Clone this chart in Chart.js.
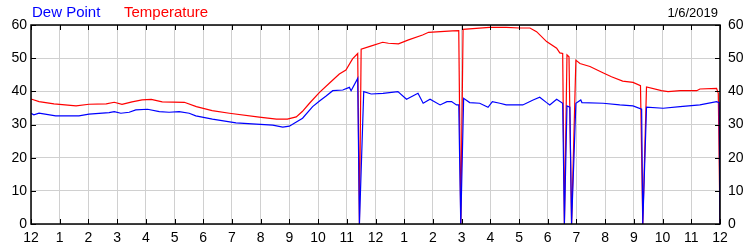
<!DOCTYPE html>
<html>
<head>
<meta charset="utf-8">
<script src="https://cdn.jsdelivr.net/npm/chart.js@4.4.1/dist/chart.umd.min.js"></script>
<style>
    body { margin: 0; background: #ffffff; }
    .wrap { position: relative; width: 750px; height: 250px; }
    .legend { position: absolute; top: 4px; font-family: 'Liberation Sans', Arial, sans-serif; font-size: 15px; line-height: 15px; white-space: nowrap; }
    .date { position: absolute; top: 6px; right: 32px; font-family: 'Liberation Sans', Arial, sans-serif; font-size: 13px; line-height: 13px; color: #000; }
</style>
</head>
<body>
<div class="wrap">
    <canvas id="weatherChart" width="750" height="250"></canvas>
    <span class="legend" style="left:32px;color:#0000ff">Dew Point</span>
    <span class="legend" style="left:124px;color:#ff0000">Temperature</span>
    <span class="date">1/6/2019</span>
</div>
<script>
// hours since midnight
const tempHours = [0, 0.28, 0.80, 1.57, 2.02, 2.62, 2.90, 3.17, 3.52, 3.87, 4.19, 4.57, 5.34, 5.76, 6.31, 6.91, 7.95, 8.55, 8.93, 9.24, 9.45, 9.70, 10.05, 10.40, 10.74, 10.97, 11.20, 11.38, 11.44, 11.50, 11.86, 12.25, 12.45, 12.80, 13.15, 13.64, 13.85, 14.68, 14.90, 14.97, 15.05, 15.97, 16.55, 17.02, 17.38, 17.61, 17.96, 18.31, 18.42, 18.52, 18.58, 18.67, 18.74, 18.83, 18.98, 19.12, 19.47, 19.92, 20.22, 20.61, 20.97, 21.23, 21.31, 21.44, 21.96, 22.19, 22.61, 23.19, 23.30, 23.88, 23.94, 24];
const temperature = [37.7, 36.9, 36.2, 35.6, 36.1, 36.2, 36.7, 36.1, 36.8, 37.4, 37.6, 36.8, 36.7, 35.4, 34.2, 33.4, 32.2, 31.6, 31.6, 32.3, 33.9, 36.4, 39.7, 42.5, 45.2, 46.4, 49.8, 51.4, 0, 52.7, 53.7, 54.8, 54.5, 54.3, 55.5, 57.0, 57.8, 58.2, 58.3, 0, 58.7, 59.3, 59.3, 59.1, 59.1, 58.0, 55.0, 53.0, 51.6, 51.4, 0, 51.0, 50.4, 0, 49.4, 48.4, 47.5, 45.6, 44.4, 43.1, 42.7, 41.7, 0, 41.3, 40.2, 39.9, 40.2, 40.2, 40.7, 40.9, 39.4, 0];

const dewHours = [0, 0.10, 0.28, 0.86, 1.67, 2.02, 2.72, 2.90, 3.13, 3.42, 3.65, 4.06, 4.47, 4.81, 5.16, 5.51, 5.74, 6.32, 7.14, 7.84, 8.42, 8.77, 9.00, 9.17, 9.46, 9.81, 10.05, 10.28, 10.51, 10.86, 11.09, 11.15, 11.38, 11.44, 11.59, 11.85, 12.26, 12.78, 13.08, 13.48, 13.66, 13.90, 14.25, 14.49, 14.65, 14.82, 14.90, 14.97, 15.07, 15.28, 15.63, 15.92, 16.07, 16.33, 16.55, 17.13, 17.49, 17.72, 17.96, 18.07, 18.31, 18.52, 18.58, 18.67, 18.77, 18.83, 18.98, 19.15, 19.19, 19.93, 20.51, 20.97, 21.27, 21.31, 21.44, 22.02, 22.61, 23.30, 23.88, 23.97, 24];
const dewPoint = [33.4, 32.9, 33.4, 32.6, 32.6, 33.1, 33.6, 33.9, 33.4, 33.7, 34.4, 34.6, 33.9, 33.7, 33.9, 33.4, 32.6, 31.6, 30.5, 30.1, 29.8, 29.2, 29.5, 30.4, 31.9, 35.4, 37.1, 38.6, 40.2, 40.4, 41.2, 40.2, 43.9, 0, 39.9, 39.2, 39.4, 39.9, 37.6, 39.4, 36.4, 37.6, 35.9, 36.9, 36.9, 35.9, 35.9, 0, 37.9, 36.6, 36.4, 35.2, 36.9, 36.4, 35.9, 35.9, 37.4, 38.2, 36.6, 35.9, 37.6, 36.4, 0, 35.6, 35.2, 0, 36.4, 37.4, 36.6, 36.4, 35.9, 35.6, 34.6, 0, 35.2, 34.9, 35.4, 35.9, 36.9, 36.6, 0];

const hourTicks = [12, 1, 2, 3, 4, 5, 6, 7, 8, 9, 10, 11, 12, 1, 2, 3, 4, 5, 6, 7, 8, 9, 10, 11, 12];
const valueTicks = [0, 10, 20, 30, 40, 50, 60];

const toPoints = (xs, ys) => xs.map((x, i) => ({ x: x, y: ys[i] }));

// black frame with short tick marks pointing into the plot
const framePlugin = {
    id: 'frame',
    afterDatasetsDraw(chart) {
        const { ctx, chartArea: a, scales } = chart;
        ctx.save();
        ctx.strokeStyle = '#000000';
        ctx.lineWidth = 1;
        ctx.beginPath();
        hourTicks.forEach((t, i) => {
            const x = Math.round(scales.x.getPixelForValue(i)) + 0.5;
            ctx.moveTo(x, a.top); ctx.lineTo(x, a.top + 5);
            ctx.moveTo(x, a.bottom); ctx.lineTo(x, a.bottom - 5);
        });
        valueTicks.forEach(v => {
            const y = Math.round(scales.y.getPixelForValue(v)) + 0.5;
            ctx.moveTo(a.left, y); ctx.lineTo(a.left + 5, y);
            ctx.moveTo(a.right, y); ctx.lineTo(a.right - 5, y);
        });
        ctx.stroke();
        ctx.lineWidth = 1.5;
        ctx.strokeRect(Math.round(a.left), Math.round(a.top), Math.round(a.right - a.left), Math.round(a.bottom - a.top));
        ctx.restore();
    }
};

document.addEventListener('DOMContentLoaded', () => {
    const ctx = document.getElementById('weatherChart').getContext('2d');
    const tickFont = { family: "'Liberation Sans', Arial, sans-serif", size: 14 };

    new Chart(ctx, {
        type: 'line',
        data: {
            datasets: [
                {
                    label: 'Dew Point',
                    data: toPoints(dewHours, dewPoint),
                    borderColor: '#0000ff',
                    borderWidth: 1.2,
                    pointRadius: 0,
                    tension: 0
                },
                {
                    label: 'Temperature',
                    data: toPoints(tempHours, temperature),
                    borderColor: '#ff0000',
                    borderWidth: 1.2,
                    pointRadius: 0,
                    tension: 0
                }
            ]
        },
        options: {
            responsive: false,
            animation: false,
            devicePixelRatio: 1,
            layout: { padding: { top: 25, left: 0, right: 0, bottom: 0 } },
            plugins: {
                legend: { display: false },
                tooltip: { enabled: false }
            },
            scales: {
                x: {
                    type: 'linear',
                    min: 0,
                    max: 24,
                    afterFit: (scale) => { scale.height = 26; },
                    afterBuildTicks: (scale) => { scale.ticks = hourTicks.map((t, i) => ({ value: i })); },
                    ticks: {
                        color: '#000000',
                        font: tickFont,
                        padding: 6,
                        maxRotation: 0,
                        autoSkip: false,
                        callback: (value) => hourTicks[value]
                    },
                    grid: { color: '#d0d0d0', lineWidth: 1, drawTicks: false },
                    border: { display: false }
                },
                y: {
                    position: 'left',
                    min: 0,
                    max: 60,
                    afterFit: (scale) => { scale.width = 31; },
                    afterBuildTicks: (scale) => { scale.ticks = valueTicks.map(v => ({ value: v })); },
                    ticks: { color: '#000000', font: tickFont, padding: 4 },
                    grid: { color: '#d0d0d0', lineWidth: 1, drawTicks: false },
                    border: { display: false }
                },
                y2: {
                    position: 'right',
                    min: 0,
                    max: 60,
                    afterFit: (scale) => { scale.width = 30; },
                    afterBuildTicks: (scale) => { scale.ticks = valueTicks.map(v => ({ value: v })); },
                    ticks: { color: '#000000', font: tickFont, padding: 8 },
                    grid: { display: false, drawTicks: false },
                    border: { display: false }
                }
            }
        },
        plugins: [framePlugin]
    });
});
</script>
</body>
</html>
